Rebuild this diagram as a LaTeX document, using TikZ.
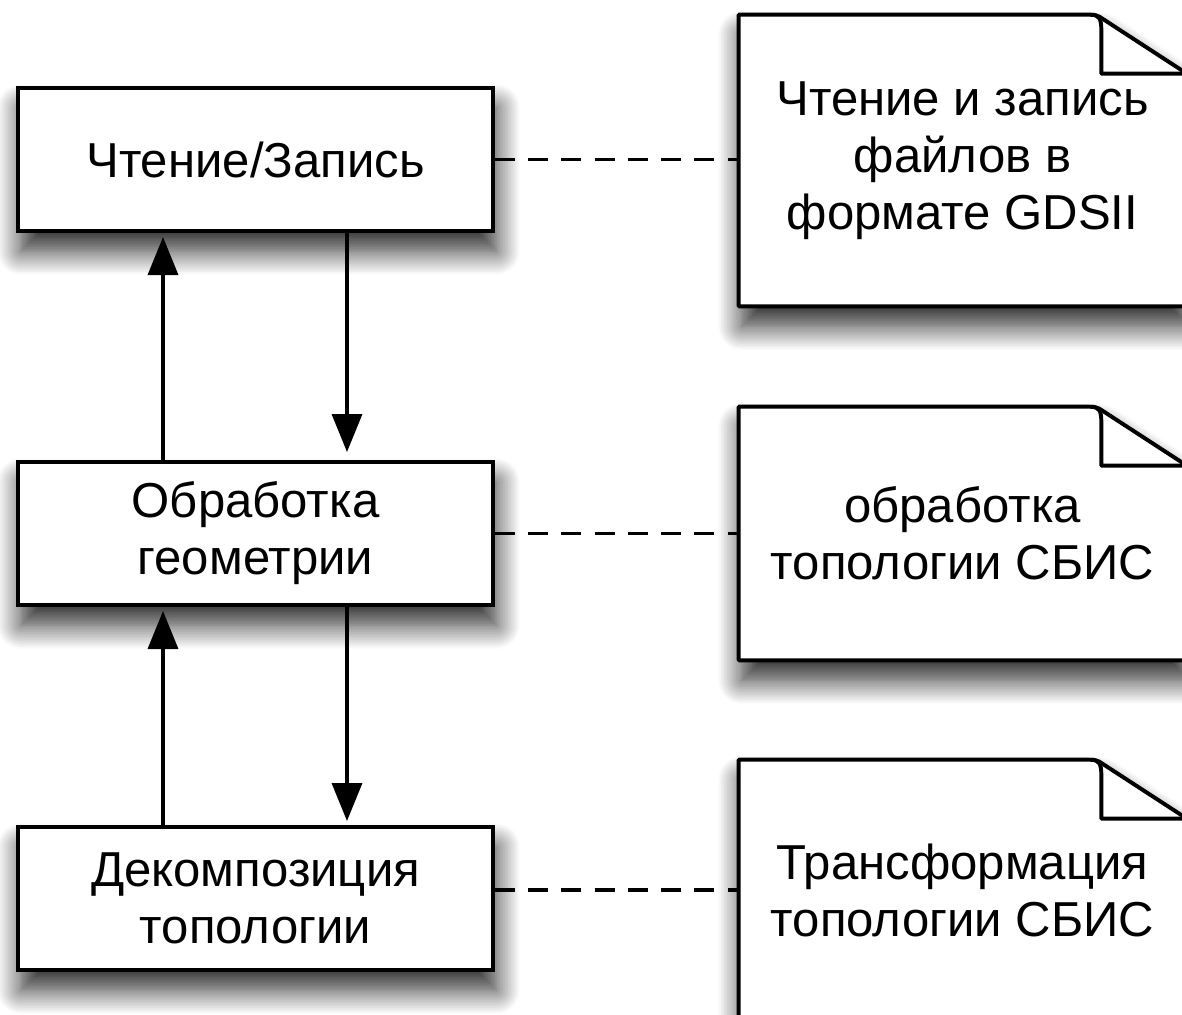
\documentclass[tikz,border=0pt]{standalone}
\usepackage{fontspec}
\setmainfont{Liberation Sans}
\usepackage{tikz}
\usetikzlibrary{arrows.meta, shadows.blur, backgrounds}

\newcommand{\unitfont}{\fontsize{34.9pt}{40.5pt}\selectfont}
\tikzset{
  softshadow/.style = {blur shadow={shadow xshift=0.08cm, shadow yshift=-0.5cm, shadow blur radius=0.6cm, shadow blur steps=16, shadow opacity=85}},
  unit/.style = {draw, line width=2.8pt, fill=white, minimum width=11.875cm, minimum height=3.575cm, align=center, font=\unitfont, softshadow},
  memo/.style = {align=center, font=\unitfont, minimum width=11.175cm},
  memobody/.style = {draw, line width=2.8pt, line join=round, fill=white, softshadow},
  memofold/.style = {line width=2.8pt, line join=round},
  flow/.style = {line width=2.5pt, -{Triangle[length=0.95cm, width=0.75cm]}},
  link/.style = {line width=2.8pt, dash pattern=on 0.5cm off 0.33cm}
}
% note with a turned-down corner round node #1
\newcommand{\dognote}[1]{%
  \path[memobody] (#1.north west) -- ([shift={(-102,0)}]#1.north east)
    .. controls ([shift={(-92,0)}]#1.north east) .. ([shift={(-87,2)}]#1.north east)
    -- ([shift={(-4,56)}]#1.north east)
    .. controls ([shift={(0,58)}]#1.north east) .. ([shift={(0,63)}]#1.north east)
    -- (#1.south east) -- (#1.south west) -- cycle;
  \draw[memofold] ([shift={(-96,0)}]#1.north east)
    .. controls ([shift={(-87,0)}]#1.north east) and ([shift={(-85,4)}]#1.north east) .. ([shift={(-85,16)}]#1.north east)
    -- ([shift={(-85,59)}]#1.north east) -- ([shift={(-5,59)}]#1.north east)
    .. controls ([shift={(0,59)}]#1.north east) .. ([shift={(0,63)}]#1.north east);
}

\begin{document}
\begin{tikzpicture}[x=0.025cm, y=-0.025cm]
\useasboundingbox (0,0) rectangle (1182,1014);

\node[unit] (rw) at (255.5,159.5) {Чтение/Запись};
\node[unit] (geom) at (255.5,533.5) {Обработка\\геометрии};
\node[unit] (decomp) at (255.5,898.5) {Декомпозиция\\топологии};

\node[memo, minimum height=7.275cm] (m1) at (962.5,160.5) {Чтение и запись\\файлов в\\формате GDSII};
\node[memo, minimum height=6.325cm] (m2) at (962.5,533.5) {обработка\\топологии СБИС};
\node[memo, minimum height=6.5cm] (m3) at (962.5,890) {Трансформация\\топологии СБИС};
\begin{scope}[on background layer]
\dognote{m1}
\dognote{m2}
\dognote{m3}
\end{scope}

\draw[flow, shorten >=0.1cm] ([shift={(-92.5,0)}]geom.north) -- ([shift={(-92.5,0)}]rw.south);
\draw[flow, shorten >=0.2cm] ([shift={(91.5,0)}]rw.south) -- ([shift={(91.5,0)}]geom.north);
\draw[flow, shorten >=0.1cm] ([shift={(-92.5,0)}]decomp.north) -- ([shift={(-92.5,0)}]geom.south);
\draw[flow, shorten >=0.1cm] ([shift={(91.5,0)}]geom.south) -- ([shift={(91.5,0)}]decomp.north);

\draw[link] (rw.east) -- (rw.east -| m1.west);
\draw[link] (geom.east) -- (geom.east -| m2.west);
\draw[link] (m3.west -| decomp.east) -- (m3.west);
\end{tikzpicture}
\end{document}
